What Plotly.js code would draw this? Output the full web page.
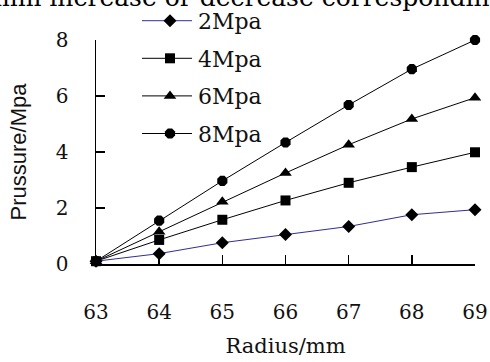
<!DOCTYPE html>
<html>
<head>
<meta charset="utf-8">
<script src="https://cdn.plot.ly/plotly-3.0.1.min.js"></script>
<style>html,body{margin:0;padding:0;background:#fff;}#chart{width:490px;height:362px;}</style>
</head>
<body>
<div id="chart"></div>
<script>
var radius = [63, 64, 65, 66, 67, 68, 69];
var seriesNames = ['2Mpa', '4Mpa', '6Mpa', '8Mpa'];
var p2 = [0.1, 0.37, 0.76, 1.05, 1.34, 1.76, 1.94];
var p4 = [0.1, 0.86, 1.58, 2.27, 2.9, 3.46, 3.99];
var p6 = [0.1, 1.15, 2.22, 3.25, 4.26, 5.18, 5.94];
var p8 = [0.1, 1.55, 2.97, 4.34, 5.68, 6.96, 8.0];
var xTicks = [63, 64, 65, 66, 67, 68, 69];
var yTicks = [0, 2, 4, 6, 8];
var pageText = 'mm increase or decrease correspondin';

var serif = 'DejaVu Serif, serif';
var ink = '#111111';
var values = [p2, p4, p6, p8];
var lineColors = ['#2e2e96', '#000000', '#000000', '#000000'];
var symbols = ['diamond', 'square', 'triangle-up', 'octagon'];
var sizes = [10, 10, 11, 11];

var traces = values.map(function (v, i) {
  return {
    x: radius, y: v, name: seriesNames[i], type: 'scatter', mode: 'lines+markers',
    legendgroup: 'g' + i,
    line: {color: lineColors[i], width: 1},
    marker: {symbol: symbols[i], size: sizes[i], color: '#000000'},
    cliponaxis: false
  };
});

var layout = {
  width: 490, height: 362,
  margin: {l: 96, r: 15, t: 40, b: 98, autoexpand: false},
  paper_bgcolor: '#ffffff', plot_bgcolor: '#ffffff',
  showlegend: true,
  legend: {
    x: (142 - 96) / 379, y: 1.179, xanchor: 'left', yanchor: 'top',
    bgcolor: 'rgba(0,0,0,0)', borderwidth: 0,
    font: {family: serif, size: 22, color: ink},
    traceorder: 'grouped', tracegroupgap: 6, itemwidth: 46
  },
  xaxis: {
    range: [63, 69], tickvals: xTicks, ticktext: xTicks.map(String),
    showgrid: false, zeroline: false, showline: true, linecolor: '#000', linewidth: 1.5,
    ticks: 'inside', ticklen: 9, tickwidth: 1.5, tickcolor: '#000',
    ticklabelstandoff: 29, automargin: false,
    tickfont: {family: serif, size: 20, color: ink},
    title: {text: 'Radius/mm', font: {family: serif, size: 21, color: ink}, standoff: 16}
  },
  yaxis: {
    range: [0, 8], tickvals: yTicks, ticktext: yTicks.map(String),
    showgrid: false, zeroline: false, showline: true, linecolor: '#000', linewidth: 1.5,
    ticks: 'inside', ticklen: 9, tickwidth: 1.5, tickcolor: '#000',
    ticklabelstandoff: 22, automargin: false,
    tickfont: {family: serif, size: 20, color: ink},
    title: {text: 'Prussure/Mpa', font: {family: 'Liberation Sans, Arial, sans-serif', size: 22, color: ink}, standoff: 23}
  },
  annotations: [{
    text: pageText, xref: 'paper', yref: 'paper',
    x: (-8 - 96) / 379, y: (264 - 14) / 224, xanchor: 'left', yanchor: 'bottom',
    showarrow: false, font: {family: serif, size: 25, color: '#000'}
  }]
};

Plotly.newPlot('chart', traces, layout, {displayModeBar: false, staticPlot: true}).then(function (gd) {
  // lengthen the legend sample lines to match the reference key
  var paths = gd.querySelectorAll('.legend .legendlines path');
  for (var i = 0; i < paths.length; i++) paths[i].setAttribute('d', 'M-7,0h57');
});
</script>
</body>
</html>
